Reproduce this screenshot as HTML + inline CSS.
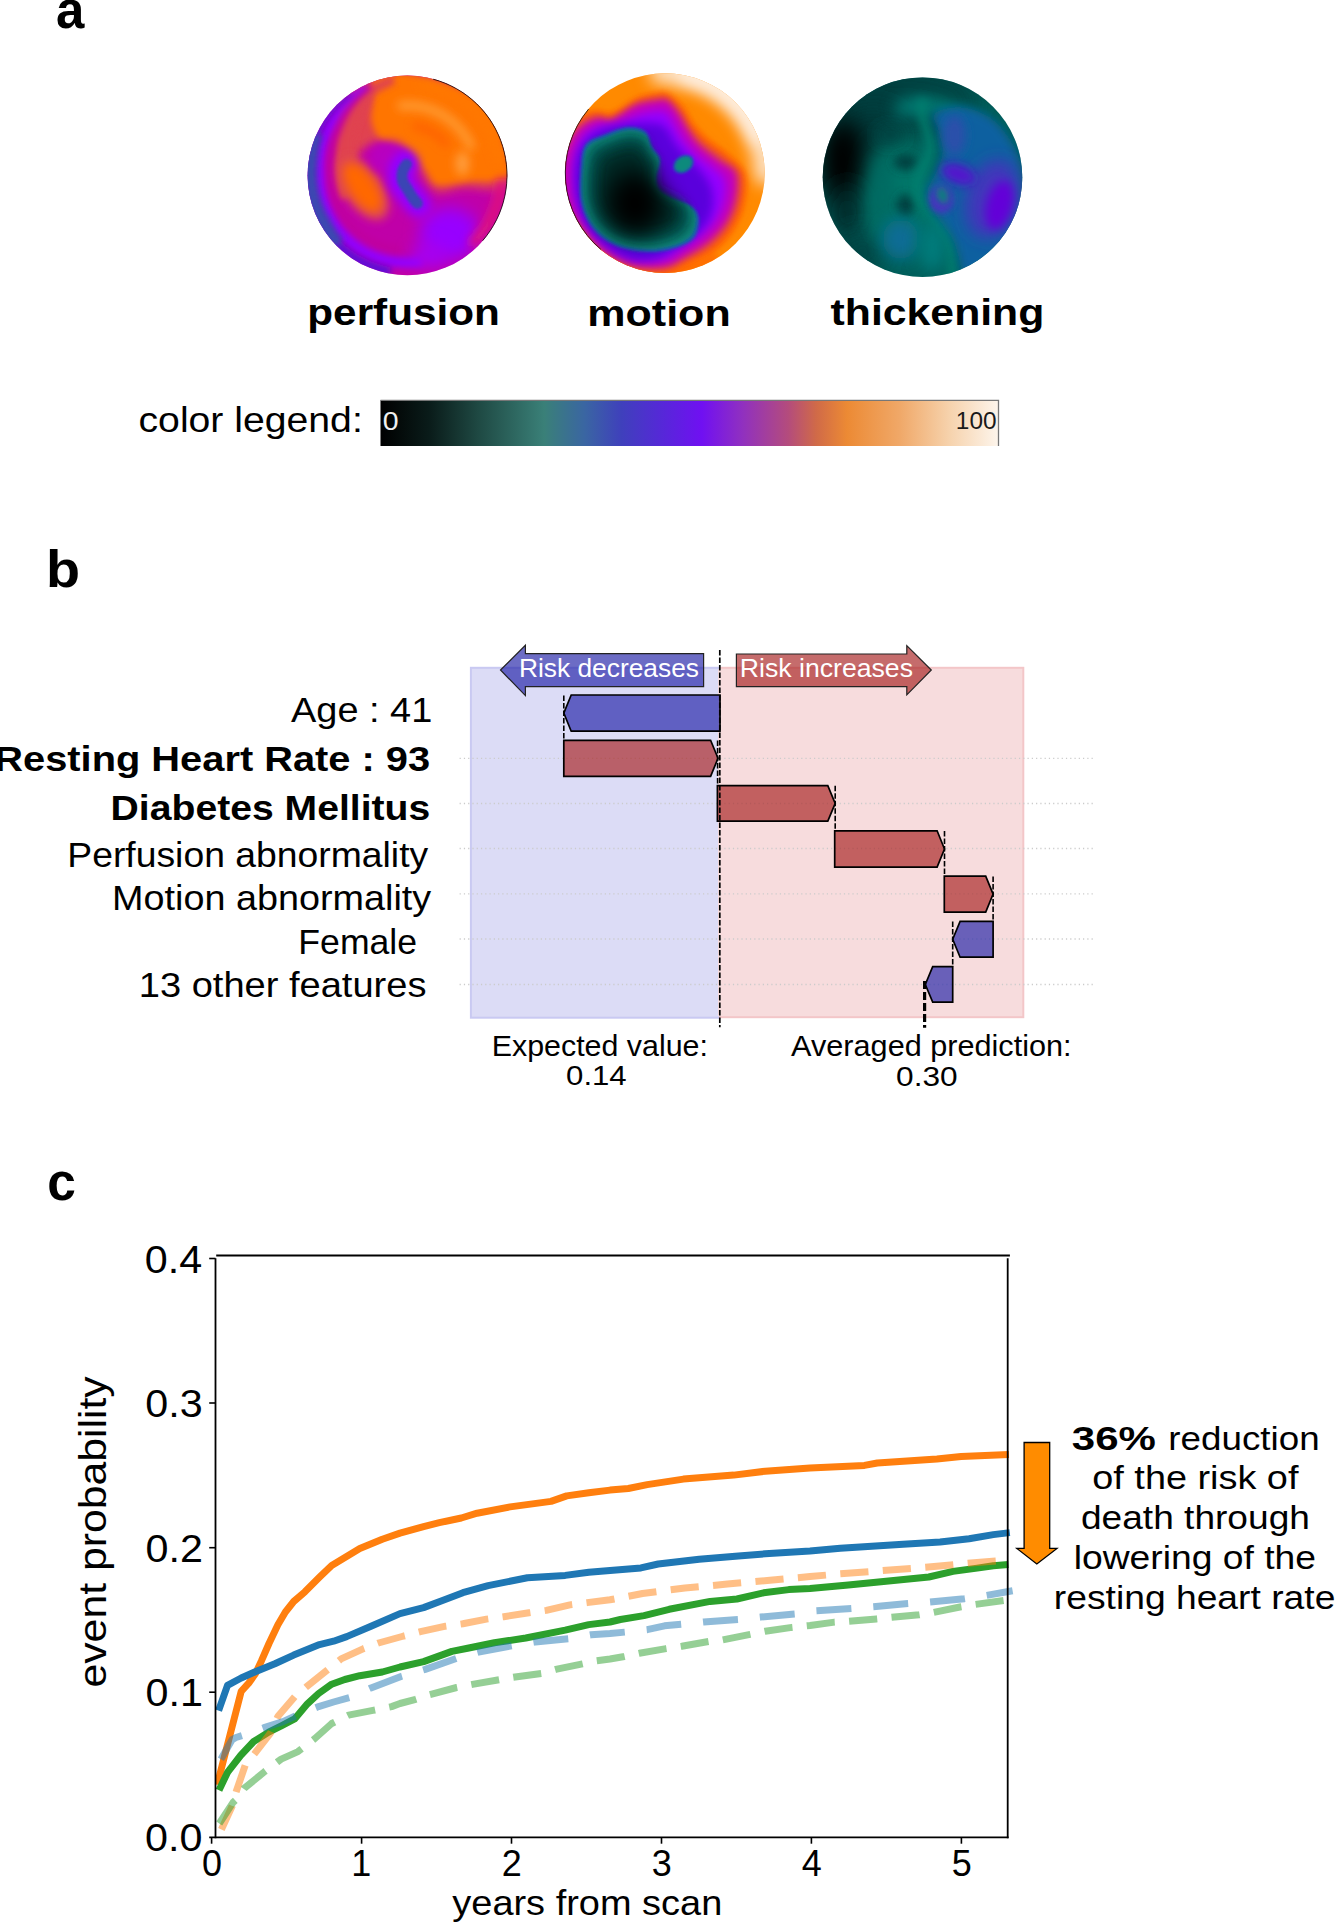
<!DOCTYPE html><html><head><meta charset="utf-8"><style>html,body{margin:0;padding:0;background:#fff;}svg{display:block;}text{font-family:"Liberation Sans", sans-serif;}</style></head><body>
<svg width="1335" height="1922" viewBox="0 0 1335 1922">
<rect width="1335" height="1922" fill="#fff"/>
<defs><filter id="fs1" filterUnits="userSpaceOnUse" x="-130" y="-130" width="260" height="260"><feGaussianBlur stdDeviation="1.5"/></filter><filter id="fs2" filterUnits="userSpaceOnUse" x="-130" y="-130" width="260" height="260"><feGaussianBlur stdDeviation="3"/></filter><filter id="fs3" filterUnits="userSpaceOnUse" x="-130" y="-130" width="260" height="260"><feGaussianBlur stdDeviation="5"/></filter><filter id="fs4" filterUnits="userSpaceOnUse" x="-130" y="-130" width="260" height="260"><feGaussianBlur stdDeviation="8"/></filter><filter id="fs5" filterUnits="userSpaceOnUse" x="-130" y="-130" width="260" height="260"><feGaussianBlur stdDeviation="12"/></filter><clipPath id="cpc"><circle cx="0" cy="0" r="99.8"/></clipPath></defs>
<g transform="translate(407.4 175.4)"><g clip-path="url(#cpc)">
<rect x="-110" y="-110" width="220" height="220" fill="#c000a8"/>
<path d="M-62,-80 C-55.0,-91.2 -43.7,-93.7 -30,-97 C-16.3,-100.3 -1.7,-106.2 20,-100 C41.7,-93.8 86.7,-78.0 100,-60 C113.3,-42.0 107.5,-4.0 100,8 C92.5,20.0 67.0,10.7 55,12 C43.0,13.3 35.5,19.3 28,16 C20.5,12.7 15.5,-1.2 10,-8 C4.5,-14.8 1.7,-20.8 -5,-25 C-11.7,-29.2 -22.5,-33.8 -30,-33 C-37.5,-32.2 -45.0,-27.2 -50,-20 C-55.0,-12.8 -56.3,11.7 -60,10 C-63.7,8.3 -71.7,-15.0 -72,-30 C-72.3,-45.0 -69.0,-68.8 -62,-80 Z" fill="#e04250" filter="url(#fs3)"/>
<path d="M-33,-97 C-25.7,-101.2 -8.8,-104.5 10,-100 C28.8,-95.5 65.0,-83.3 80,-70 C95.0,-56.7 97.0,-32.2 100,-20 C103.0,-7.8 104.7,-1.3 98,3 C91.3,7.3 71.3,5.0 60,6 C48.7,7.0 37.0,11.0 30,9 C23.0,7.0 22.0,-1.2 18,-6 C14.0,-10.8 10.7,-16.0 6,-20 C1.3,-24.0 -4.3,-27.0 -10,-30 C-15.7,-33.0 -23.7,-33.8 -28,-38 C-32.3,-42.2 -35.0,-48.8 -36,-55 C-37.0,-61.2 -34.5,-68.0 -34,-75 C-33.5,-82.0 -40.3,-92.8 -33,-97 Z" fill="#ff7400" filter="url(#fs2)"/>
<path d="M-6.1,-69.7 A70,70 0 0 1 63.4,-29.6" fill="none" stroke="#ff9a30" stroke-width="9" stroke-linecap="round" filter="url(#fs3)" opacity="1"/>
<ellipse cx="55" cy="-12" rx="7" ry="12" fill="#ff9c3a" filter="url(#fs3)"/>
<path d="M8.7,-49.2 A50,50 0 0 1 38.3,-32.1" fill="none" stroke="#ff6200" stroke-width="8" stroke-linecap="round" filter="url(#fs3)" opacity="1"/>
<path d="M16.1,-91.6 A93,93 0 0 1 91.6,-16.1" fill="none" stroke="#ff7800" stroke-width="8" stroke-linecap="round" filter="url(#fs3)" opacity="1"/>
<path d="M-68.6,25.0 L-69.9,22.0 L-71.0,18.9 L-72.1,15.8 L-72.9,12.6 L-73.7,9.4 L-74.3,6.1 L-74.7,2.8 L-75.0,-0.5 L-75.2,-3.9 L-75.2,-7.2 L-75.1,-10.6 L-74.8,-14.0 L-74.3,-17.4 L-73.7,-20.7 L-73.0,-24.1 L-72.4,-27.5 L-72.3,-31.2 L-72.0,-35.0 L-71.6,-38.8 L-70.9,-42.6 L-70.0,-46.4 L-69.0,-50.3 L-67.7,-54.1 L-66.2,-58.0 L-64.5,-61.8 L-62.5,-65.4 L-60.0,-68.7 L-57.4,-71.9 L-54.6,-75.1 L-51.7,-78.1 L-48.6,-81.0 L-45.3,-83.8 L-41.9,-86.5 L-38.3,-89.0 L-34.6,-91.4 L-30.7,-93.5 L-26.7,-95.4 L-22.6,-97.1 L-18.4,-98.7 L-14.1,-100.0 L-12.8,-91.1 L-16.7,-89.6 L-20.5,-88.0 L-24.1,-86.1 L-27.7,-84.2 L-31.0,-81.8 L-33.9,-78.6 L-36.5,-75.4 L-39.0,-72.1 L-41.2,-68.7 L-43.2,-65.3 L-45.0,-61.8 L-46.5,-58.3 L-47.9,-54.8 L-49.0,-51.3 L-50.0,-47.9 L-51.0,-44.6 L-51.7,-41.3 L-52.2,-38.1 L-52.6,-34.9 L-52.8,-31.7 L-52.8,-28.6 L-52.7,-25.6 L-52.3,-22.6 L-51.9,-19.7 L-52.2,-17.2 L-52.9,-14.9 L-53.6,-12.5 L-54.1,-10.1 L-54.5,-7.7 L-54.7,-5.3 L-54.9,-2.8 L-55.0,-0.4 L-55.0,2.1 L-54.8,4.5 L-54.6,6.9 L-54.2,9.4 L-53.7,11.8 L-53.2,14.1 L-52.5,16.5 L-51.7,18.8 Z" fill="#e04250" filter="url(#fs2)"/>
<path d="M-7.3,83.7 L-12.9,83.1 L-18.4,82.0 L-23.9,80.7 L-29.2,79.0 L-34.4,76.9 L-39.5,74.4 L-44.4,71.7 L-49.1,68.6 L-53.6,65.2 L-57.9,61.5 L-61.9,57.5 L-65.6,53.3 L-69.1,48.8 L-72.2,44.2 L-75.0,39.3 L-77.5,34.2 L-79.7,29.0 L-81.5,23.6 L-82.9,18.1 L-84.0,12.5 L-84.7,6.9 L-85.0,1.3 L-85.3,-4.4 L-85.4,-10.2 L-85.0,-16.0 L-84.3,-21.7 L-83.2,-27.5 L-81.7,-33.2 L-79.8,-38.8 L-77.5,-44.3 L-74.8,-49.7 L-72.0,-55.1 L-69.0,-60.4 L-65.5,-65.6 L-61.7,-70.6 L-57.5,-75.4 L-52.9,-80.0 L-47.9,-84.2 L-42.7,-88.2 L-37.1,-91.8 L-35.2,-87.2 L-40.2,-83.2 L-44.9,-78.9 L-49.2,-74.3 L-53.0,-69.6 L-56.5,-64.7 L-59.5,-59.6 L-62.2,-54.5 L-64.4,-49.2 L-66.4,-44.1 L-68.4,-39.1 L-70.1,-34.1 L-71.4,-29.0 L-72.3,-23.9 L-72.9,-18.8 L-73.2,-13.7 L-73.0,-8.7 L-72.6,-3.8 L-72.0,1.1 L-71.7,5.9 L-71.0,10.6 L-70.1,15.3 L-68.8,19.9 L-67.2,24.4 L-65.4,28.8 L-63.2,33.1 L-60.8,37.2 L-58.1,41.1 L-55.2,44.8 L-52.0,48.3 L-48.6,51.6 L-45.0,54.7 L-41.2,57.5 L-37.2,60.0 L-33.1,62.3 L-28.8,64.3 L-24.4,66.0 L-19.9,67.4 L-15.4,68.5 L-10.8,69.3 L-6.1,69.7 Z" fill="#c000a0" filter="url(#fs2)"/>
<path d="M16.0,90.6 L9.4,91.6 L2.8,92.1 L-3.8,92.2 L-10.5,91.7 L-17.0,90.8 L-23.5,89.4 L-29.9,87.6 L-36.2,85.3 L-42.3,82.5 L-48.2,79.4 L-53.8,75.8 L-59.1,71.8 L-64.2,67.4 L-69.0,62.6 L-73.3,57.6 L-77.4,52.2 L-81.0,46.5 L-84.2,40.6 L-87.0,34.5 L-89.3,28.2 L-91.2,21.7 L-92.6,15.1 L-93.5,8.4 L-94.0,1.6 L-94.1,-5.1 L-93.9,-11.9 L-93.1,-18.7 L-91.9,-25.5 L-90.1,-32.1 L-87.9,-38.7 L-85.2,-45.1 L-82.0,-51.3 L-78.5,-57.3 L-74.6,-63.1 L-70.2,-68.7 L-65.5,-74.0 L-60.3,-79.0 L-54.8,-83.5 L-48.9,-87.7 L-42.7,-91.5 L-40.6,-87.0 L-46.2,-82.9 L-51.4,-78.4 L-56.3,-73.7 L-60.7,-68.6 L-64.7,-63.3 L-68.2,-57.8 L-71.3,-52.1 L-74.3,-46.4 L-76.9,-40.7 L-79.1,-34.8 L-80.8,-28.8 L-82.1,-22.8 L-83.0,-16.7 L-83.4,-10.6 L-83.3,-4.5 L-83.0,1.4 L-82.6,7.4 L-81.8,13.3 L-80.6,19.2 L-79.0,24.9 L-77.0,30.5 L-74.5,35.9 L-71.7,41.2 L-68.5,46.2 L-65.0,51.0 L-61.1,55.5 L-56.9,59.7 L-52.5,63.7 L-47.7,67.2 L-42.8,70.5 L-37.6,73.3 L-32.2,75.8 L-26.6,77.9 L-20.9,79.5 L-15.2,80.8 L-9.3,81.6 L-3.4,82.1 L2.5,82.0 L8.4,81.6 L14.2,80.8 Z" fill="#9200ff" filter="url(#fs2)"/>
<path d="M-17.9,101.4 L-23.8,100.2 L-29.7,98.6 L-35.4,96.7 L-41.1,94.5 L-46.6,91.9 L-51.9,89.0 L-57.0,85.8 L-62.0,82.3 L-66.7,78.5 L-71.2,74.4 L-75.5,70.1 L-79.5,65.5 L-83.2,60.7 L-86.6,55.7 L-89.8,50.5 L-92.6,45.2 L-95.1,39.6 L-97.2,34.0 L-99.1,28.2 L-100.6,22.3 L-101.7,16.3 L-102.5,10.3 L-102.9,4.3 L-103.0,-1.8 L-102.7,-7.9 L-102.1,-13.9 L-101.1,-19.9 L-99.7,-25.8 L-98.0,-31.6 L-96.0,-37.3 L-93.6,-42.9 L-90.9,-48.4 L-87.9,-53.6 L-84.6,-58.7 L-81.0,-63.6 L-77.1,-68.2 L-73.0,-72.7 L-68.6,-76.8 L-63.9,-80.7 L-59.1,-84.4 L-56.2,-80.3 L-60.7,-76.6 L-64.9,-72.7 L-68.9,-68.6 L-72.7,-64.3 L-76.1,-59.7 L-79.3,-55.0 L-82.2,-50.1 L-84.8,-45.1 L-87.1,-39.9 L-89.0,-34.6 L-90.7,-29.3 L-92.0,-23.8 L-93.0,-18.3 L-93.7,-12.8 L-94.0,-7.2 L-94.1,-1.6 L-93.9,3.9 L-93.5,9.4 L-92.7,14.9 L-91.6,20.3 L-90.2,25.7 L-88.5,30.9 L-86.5,36.1 L-84.2,41.1 L-81.6,45.9 L-78.7,50.6 L-75.6,55.2 L-72.2,59.5 L-68.5,63.6 L-64.6,67.5 L-60.5,71.1 L-56.2,74.5 L-51.7,77.7 L-47.0,80.6 L-42.1,83.1 L-37.2,85.4 L-32.0,87.4 L-26.8,89.1 L-21.5,90.5 L-16.1,91.6 Z" fill="#5a08d8" filter="url(#fs2)"/>
<path d="M-72.8,72.8 L-75.0,70.6 L-77.1,68.2 L-79.2,65.9 L-81.2,63.4 L-83.1,60.9 L-84.9,58.3 L-86.6,55.7 L-88.3,53.0 L-89.9,50.3 L-91.4,47.6 L-92.8,44.7 L-94.1,41.9 L-95.3,39.0 L-96.5,36.1 L-97.5,33.1 L-98.5,30.1 L-99.4,27.1 L-100.2,24.0 L-100.8,21.0 L-101.4,17.9 L-101.9,14.8 L-102.3,11.7 L-102.6,8.5 L-102.9,5.4 L-103.0,2.2 L-103.0,-0.9 L-102.9,-4.0 L-102.7,-7.2 L-102.5,-10.3 L-102.1,-13.4 L-101.7,-16.6 L-101.1,-19.7 L-100.5,-22.7 L-99.7,-25.8 L-98.9,-28.8 L-98.0,-31.8 L-96.9,-34.8 L-95.8,-37.7 L-94.6,-40.7 L-93.3,-43.5 L-85.2,-39.7 L-86.0,-37.0 L-86.8,-34.2 L-87.5,-31.4 L-88.1,-28.6 L-88.6,-25.8 L-89.0,-23.0 L-89.3,-20.2 L-89.5,-17.4 L-89.8,-14.6 L-90.1,-11.9 L-90.3,-9.1 L-90.5,-6.3 L-90.5,-3.6 L-90.5,-0.8 L-90.4,2.0 L-90.2,4.7 L-90.0,7.5 L-89.6,10.2 L-89.2,12.9 L-88.6,15.6 L-88.0,18.3 L-87.3,21.0 L-86.6,23.6 L-85.7,26.2 L-84.8,28.8 L-83.8,31.3 L-82.7,33.8 L-81.6,36.3 L-80.4,38.8 L-79.1,41.2 L-77.7,43.5 L-76.4,45.9 L-75.2,48.3 L-73.8,50.7 L-72.4,53.1 L-71.0,55.5 L-69.4,57.7 L-67.8,60.0 L-66.1,62.2 L-64.3,64.3 Z" fill="#3a48b0" filter="url(#fs2)"/>
<ellipse cx="-44" cy="13" rx="19" ry="36" fill="#e04850" filter="url(#fs3)" transform="rotate(-34 -44 13)"/>
<ellipse cx="-45" cy="12" rx="13" ry="28" fill="#ff6800" filter="url(#fs3)" transform="rotate(-34 -45 12)"/>
<ellipse cx="-18" cy="-18" rx="20" ry="16" fill="#b800c0" filter="url(#fs3)"/>
<path d="M-2,-12 C-9,-4 -9,6 -2,13 C3,20 7,25 11,29" fill="none" stroke="#9400ff" stroke-width="26" stroke-linecap="round" filter="url(#fs3)"/>
<path d="M-1,-11 C-7,-4 -7,6 -1,12 C3,19 6,24 10,28" fill="none" stroke="#3a44b4" stroke-width="11" stroke-linecap="round" filter="url(#fs1)"/>
<ellipse cx="42" cy="58" rx="30" ry="26" fill="#9800ff" filter="url(#fs4)"/>
<ellipse cx="22" cy="80" rx="18" ry="12" fill="#a400f4" filter="url(#fs4)"/>
<path d="M93.6,8.2 A94,94 0 0 1 66.5,66.5" fill="none" stroke="#e0167c" stroke-width="10" stroke-linecap="round" filter="url(#fs3)" opacity="1"/>
</g>
<path d="M25.78,-96.21 A99.6,99.6 0 0 1 75.17,65.34" fill="none" stroke="#000" stroke-width="1" opacity="0.75"/>
</g>
<g transform="translate(664.9 173.1)"><g clip-path="url(#cpc)">
<rect x="-110" y="-110" width="220" height="220" fill="#ff8a00"/>
<path d="M-3.5,-100.9 A101,101 0 0 1 101.0,0.0" fill="none" stroke="#fde2c4" stroke-width="24" stroke-linecap="round" filter="url(#fs4)" opacity="1"/>
<path d="M21.0,-98.8 A101,101 0 0 1 93.6,-37.8" fill="none" stroke="#fff0e2" stroke-width="18" stroke-linecap="round" filter="url(#fs4)" opacity="1"/>
<path d="M49.0,84.9 A98,98 0 0 1 -84.9,49.0" fill="none" stroke="#ff6a00" stroke-width="8" stroke-linecap="round" filter="url(#fs2)" opacity="1"/>
<path d="M2,-80 C6.3,-77.7 13.7,-71.0 18,-66 C22.3,-61.0 24.0,-55.2 28,-50 C32.0,-44.8 36.3,-40.0 42,-35 C47.7,-30.0 55.7,-25.8 62,-20 C68.3,-14.2 77.0,-8.0 80,0 C83.0,8.0 81.7,18.8 80,28 C78.3,37.2 75.0,46.7 70,55 C65.0,63.3 58.0,71.7 50,78 C42.0,84.3 30.3,89.0 22,93 C13.7,97.0 9.5,100.8 0,102 C-9.5,103.2 -24.2,102.8 -35,100 C-45.8,97.2 -56.2,91.7 -65,85 C-73.8,78.3 -81.8,69.2 -88,60 C-94.2,50.8 -99.2,40.0 -102,30 C-104.8,20.0 -105.3,10.0 -105,0 C-104.7,-10.0 -102.2,-21.3 -100,-30 C-97.8,-38.7 -96.7,-46.7 -92,-52 C-87.3,-57.3 -78.2,-60.7 -72,-62 C-65.8,-63.3 -60.0,-59.3 -55,-60 C-50.0,-60.7 -46.8,-63.3 -42,-66 C-37.2,-68.7 -31.7,-73.7 -26,-76 C-20.3,-78.3 -12.7,-79.3 -8,-80 C-3.3,-80.7 -2.3,-82.3 2,-80 Z" fill="#ff6000" filter="url(#fs2)"/>
<path d="M2,-76 C6.0,-73.7 12.2,-67.0 16,-62 C19.8,-57.0 21.3,-51.2 25,-46 C28.7,-40.8 32.5,-36.0 38,-31 C43.5,-26.0 51.8,-21.2 58,-16 C64.2,-10.8 72.2,-7.2 75,0 C77.8,7.2 76.7,18.3 75,27 C73.3,35.7 69.8,44.3 65,52 C60.2,59.7 53.5,67.0 46,73 C38.5,79.0 27.7,84.0 20,88 C12.3,92.0 8.7,95.7 0,97 C-8.7,98.3 -21.7,98.5 -32,96 C-42.3,93.5 -53.3,88.3 -62,82 C-70.7,75.7 -77.3,66.7 -84,58 C-90.7,49.3 -98.3,39.7 -102,30 C-105.7,20.3 -106.3,9.5 -106,0 C-105.7,-9.5 -102.8,-19.0 -100,-27 C-97.2,-35.0 -94.0,-42.8 -89,-48 C-84.0,-53.2 -75.7,-56.7 -70,-58 C-64.3,-59.3 -59.5,-55.3 -55,-56 C-50.5,-56.7 -47.7,-59.3 -43,-62 C-38.3,-64.7 -32.8,-69.7 -27,-72 C-21.2,-74.3 -12.8,-75.3 -8,-76 C-3.2,-76.7 -2.0,-78.3 2,-76 Z" fill="#e0404a" filter="url(#fs2)"/>
<path d="M2,-72 C5.7,-69.7 10.7,-62.7 14,-58 C17.3,-53.3 18.7,-49.0 22,-44 C25.3,-39.0 28.7,-33.3 34,-28 C39.3,-22.7 48.0,-16.7 54,-12 C60.0,-7.3 67.3,-6.2 70,0 C72.7,6.2 71.5,16.8 70,25 C68.5,33.2 65.5,41.7 61,49 C56.5,56.3 50.0,63.2 43,69 C36.0,74.8 26.2,80.0 19,84 C11.8,88.0 8.2,91.7 0,93 C-8.2,94.3 -20.0,94.5 -30,92 C-40.0,89.5 -51.5,84.0 -60,78 C-68.5,72.0 -74.5,64.2 -81,56 C-87.5,47.8 -95.2,38.3 -99,29 C-102.8,19.7 -104.2,9.0 -104,0 C-103.8,-9.0 -101.0,-17.7 -98,-25 C-95.0,-32.3 -91.0,-39.2 -86,-44 C-81.0,-48.8 -73.2,-52.7 -68,-54 C-62.8,-55.3 -59.0,-51.3 -55,-52 C-51.0,-52.7 -48.5,-55.3 -44,-58 C-39.5,-60.7 -34.0,-65.7 -28,-68 C-22.0,-70.3 -13.0,-71.3 -8,-72 C-3.0,-72.7 -1.7,-74.3 2,-72 Z" fill="#c400b8" filter="url(#fs2)"/>
<path d="M0,-62 C5.3,-60.0 7.0,-52.7 10,-48 C13.0,-43.3 14.7,-38.7 18,-34 C21.3,-29.3 25.0,-24.7 30,-20 C35.0,-15.3 43.0,-10.3 48,-6 C53.0,-1.7 58.0,0.7 60,6 C62.0,11.3 61.3,19.3 60,26 C58.7,32.7 56.0,39.8 52,46 C48.0,52.2 42.0,58.0 36,63 C30.0,68.0 22.0,72.2 16,76 C10.0,79.8 7.7,84.3 0,86 C-7.7,87.7 -20.3,88.2 -30,86 C-39.7,83.8 -50.0,78.7 -58,73 C-66.0,67.3 -72.8,59.7 -78,52 C-83.2,44.3 -86.7,35.7 -89,27 C-91.3,18.3 -92.0,8.2 -92,0 C-92.0,-8.2 -90.8,-15.7 -89,-22 C-87.2,-28.3 -84.8,-33.8 -81,-38 C-77.2,-42.2 -70.8,-45.3 -66,-47 C-61.2,-48.7 -56.7,-47.0 -52,-48 C-47.3,-49.0 -43.0,-51.0 -38,-53 C-33.0,-55.0 -28.3,-58.5 -22,-60 C-15.7,-61.5 -5.3,-64.0 0,-62 Z" fill="#9400ff" filter="url(#fs3)"/>
<path d="M0,-46 C4.0,-42.7 6.3,-35.0 10,-30 C13.7,-25.0 17.7,-20.7 22,-16 C26.3,-11.3 32.0,-7.0 36,-2 C40.0,3.0 44.0,8.3 46,14 C48.0,19.7 48.7,26.0 48,32 C47.3,38.0 45.3,44.7 42,50 C38.7,55.3 33.3,59.7 28,64 C22.7,68.3 16.3,72.3 10,76 C3.7,79.7 -2.5,84.3 -10,86 C-17.5,87.7 -26.7,88.3 -35,86 C-43.3,83.7 -52.8,77.7 -60,72 C-67.2,66.3 -73.3,59.5 -78,52 C-82.7,44.5 -86.0,35.7 -88,27 C-90.0,18.3 -90.3,8.2 -90,0 C-89.7,-8.2 -88.3,-16.0 -86,-22 C-83.7,-28.0 -80.0,-32.3 -76,-36 C-72.0,-39.7 -67.0,-42.0 -62,-44 C-57.0,-46.0 -51.3,-47.0 -46,-48 C-40.7,-49.0 -35.3,-49.7 -30,-50 C-24.7,-50.3 -19.0,-50.7 -14,-50 C-9.0,-49.3 -4.0,-49.3 0,-46 Z" fill="#5a06dc" filter="url(#fs3)"/>
<path d="M-84,-9 C-83.2,-18.7 -82.7,-24.2 -79,-29 C-75.3,-33.8 -68.8,-35.2 -62,-38 C-55.2,-40.8 -45.0,-45.3 -38,-46 C-31.0,-46.7 -24.2,-45.3 -20,-42 C-15.8,-38.7 -15.5,-30.7 -13,-26 C-10.5,-21.3 -5.7,-19.0 -5,-14 C-4.3,-9.0 -8.8,-1.2 -9,4 C-9.2,9.2 -8.7,13.3 -6,17 C-3.3,20.7 1.5,23.2 7,26 C12.5,28.8 22.5,30.7 27,34 C31.5,37.3 33.5,41.0 34,46 C34.5,51.0 33.3,59.3 30,64 C26.7,68.7 21.2,71.5 14,74 C6.8,76.5 -3.0,79.0 -13,79 C-23.0,79.0 -36.3,77.7 -46,74 C-55.7,70.3 -64.7,64.5 -71,57 C-77.3,49.5 -81.8,40.0 -84,29 C-86.2,18.0 -84.8,0.7 -84,-9 Z" fill="#1e5cae" filter="url(#fs1)"/>
<path d="M-81.3,-7.799999999999997 C-80.5,-17.0 -80.0,-22.2 -76.55,-26.799999999999997 C-73.1,-31.4 -66.9,-32.7 -60.4,-35.349999999999994 C-53.9,-38.0 -44.2,-42.3 -37.6,-42.949999999999996 C-31.0,-43.6 -24.5,-42.3 -20.5,-39.15 C-16.5,-36.0 -16.2,-28.4 -13.850000000000001,-23.949999999999996 C-11.5,-19.5 -6.9,-17.3 -6.25,-12.549999999999997 C-5.6,-7.8 -9.9,-0.4 -10.05,4.550000000000001 C-10.2,9.5 -9.7,13.4 -7.200000000000003,16.9 C-4.7,20.4 -0.1,22.8 5.149999999999999,25.45 C10.4,28.1 19.9,29.9 24.15,33.05 C28.4,36.2 30.3,39.7 30.799999999999997,44.45 C31.3,49.2 30.2,57.1 27.0,61.55 C23.8,66.0 18.6,68.7 11.799999999999997,71.05 C5.0,73.4 -4.4,75.8 -13.850000000000001,75.8 C-23.4,75.8 -36.0,74.5 -45.2,71.05 C-54.4,67.6 -62.9,62.0 -68.94999999999999,54.9 C-75.0,47.8 -79.2,38.8 -81.3,28.299999999999997 C-83.4,17.8 -82.1,1.4 -81.3,-7.799999999999997 Z" fill="#0a8478" filter="url(#fs1)"/>
<path d="M-76.44,-5.640000000000001 C-75.7,-14.0 -75.3,-18.7 -72.14,-22.839999999999996 C-69.0,-27.0 -63.4,-28.1 -57.519999999999996,-30.58 C-51.6,-33.0 -42.9,-36.9 -36.88,-37.46 C-30.9,-38.0 -25.0,-36.9 -21.4,-34.019999999999996 C-17.8,-31.2 -17.5,-24.3 -15.38,-20.259999999999998 C-13.2,-16.2 -9.1,-14.2 -8.5,-9.940000000000001 C-7.9,-5.6 -11.8,1.1 -11.940000000000001,5.540000000000001 C-12.1,10.0 -11.7,13.6 -9.36,16.72 C-7.1,19.9 -2.9,22.0 1.8200000000000003,24.46 C6.5,26.9 15.1,28.5 19.019999999999996,31.34 C22.9,34.2 24.6,37.4 25.04,41.66 C25.5,46.0 24.5,53.1 21.6,57.14 C18.7,61.2 14.0,63.6 7.839999999999996,65.74000000000001 C1.7,67.9 -6.8,70.0 -15.38,70.03999999999999 C-24.0,70.0 -35.4,68.9 -43.76,65.74000000000001 C-52.1,62.6 -59.8,57.6 -65.25999999999999,51.12 C-70.7,44.7 -74.6,36.5 -76.44,27.04 C-78.3,17.6 -77.2,2.7 -76.44,-5.640000000000001 Z" fill="#035a54" filter="url(#fs3)"/>
<path d="M-68.88,-2.280000000000001 C-68.3,-9.2 -67.9,-13.2 -65.28,-16.68 C-62.6,-20.2 -58.0,-21.1 -53.04,-23.159999999999997 C-48.1,-25.2 -40.8,-28.4 -35.76,-28.92 C-30.7,-29.4 -25.8,-28.4 -22.8,-26.04 C-19.8,-23.6 -19.6,-17.9 -17.759999999999998,-14.52 C-16.0,-11.2 -12.5,-9.5 -12.0,-5.879999999999999 C-11.5,-2.3 -14.8,3.4 -14.88,7.08 C-15.0,10.8 -14.6,13.8 -12.719999999999999,16.44 C-10.8,19.1 -7.3,20.9 -3.3599999999999994,22.92 C0.6,25.0 7.8,26.3 11.04,28.68 C14.3,31.1 15.7,33.7 16.08,37.32 C16.4,40.9 15.6,46.9 13.199999999999996,50.28 C10.8,53.6 6.8,55.7 1.6799999999999997,57.48 C-3.5,59.3 -10.6,61.1 -17.759999999999998,61.08 C-25.0,61.1 -34.6,60.1 -41.519999999999996,57.48 C-48.5,54.8 -55.0,50.6 -59.519999999999996,45.239999999999995 C-64.1,39.8 -67.3,33.0 -68.88,25.08 C-70.4,17.2 -69.5,4.7 -68.88,-2.280000000000001 Z" fill="#022a28" filter="url(#fs4)"/>
<ellipse cx="-30" cy="30" rx="28" ry="32" fill="#000000" filter="url(#fs5)"/>
<ellipse cx="18.6" cy="-8.9" rx="11" ry="8" fill="#1e5cae" filter="url(#fs1)" transform="rotate(-35 18.6 -8.9)"/>
<ellipse cx="18.6" cy="-8.9" rx="9" ry="6.5" fill="#0c8a7c" filter="url(#fs1)" transform="rotate(-35 18.6 -8.9)"/>
</g>
<path d="M-64.02,76.30 A99.6,99.6 0 0 1 -76.30,-64.02" fill="none" stroke="#000" stroke-width="1" opacity="0.7"/>
</g>
<g transform="translate(922.5 177.2)"><g clip-path="url(#cpc)">
<rect x="-110" y="-110" width="220" height="220" fill="#005e5a"/>
<ellipse cx="-25" cy="-75" rx="80" ry="35" fill="#003e3e" filter="url(#fs5)"/>
<ellipse cx="-50" cy="-30" rx="40" ry="40" fill="#003a3a" filter="url(#fs5)"/>
<ellipse cx="-80" cy="-15" rx="24" ry="45" fill="#000606" filter="url(#fs5)"/>
<ellipse cx="-75" cy="35" rx="16" ry="30" fill="#002828" filter="url(#fs5)"/>
<ellipse cx="-60" cy="75" rx="25" ry="20" fill="#004040" filter="url(#fs5)"/>
<ellipse cx="-22" cy="18" rx="32" ry="62" fill="#007468" filter="url(#fs5)"/>
<ellipse cx="-40" cy="20" rx="10" ry="40" fill="#006a62" filter="url(#fs4)"/>
<ellipse cx="-17" cy="-15" rx="12" ry="8" fill="#004040" filter="url(#fs3)"/>
<ellipse cx="-17" cy="28" rx="9" ry="11" fill="#004040" filter="url(#fs3)"/>
<ellipse cx="-32" cy="-42" rx="14" ry="8" fill="#004040" filter="url(#fs4)"/>
<path d="M-18.6,-69.5 A72,72 0 0 1 55.2,-46.3" fill="none" stroke="#007e76" stroke-width="18" stroke-linecap="round" filter="url(#fs4)" opacity="1"/>
<path d="M0,-78 C-4,-58 10,-42 8,-27 C5,-12 -8,-2 -5,14 C-2,30 14,44 24,60 C30,75 30,90 30,102" fill="none" stroke="#00806f" stroke-width="9" filter="url(#fs3)"/>
<path d="M12,-64 C16.0,-68.0 30.3,-71.0 40,-70 C49.7,-69.0 61.3,-64.7 70,-58 C78.7,-51.3 87.0,-39.7 92,-30 C97.0,-20.3 99.0,-11.7 100,0 C101.0,11.7 100.5,28.3 98,40 C95.5,51.7 91.3,61.7 85,70 C78.7,78.3 67.2,85.3 60,90 C52.8,94.7 46.0,99.7 42,98 C38.0,96.3 38.0,86.0 36,80 C34.0,74.0 33.0,67.8 30,62 C27.0,56.2 21.7,50.7 18,45 C14.3,39.3 10.2,33.5 8,28 C5.8,22.5 4.0,17.7 5,12 C6.0,6.3 11.5,0.3 14,-6 C16.5,-12.3 19.7,-19.3 20,-26 C20.3,-32.7 17.3,-39.7 16,-46 C14.7,-52.3 8.0,-60.0 12,-64 Z" fill="#0860a0" filter="url(#fs3)"/>
<ellipse cx="32" cy="-42" rx="11" ry="20" fill="#2a50aa" filter="url(#fs3)"/>
<ellipse cx="70" cy="22" rx="26" ry="40" fill="#4234bc" filter="url(#fs4)" transform="rotate(15 70 22)"/>
<ellipse cx="77" cy="28" rx="13" ry="25" fill="#6400d8" filter="url(#fs3)" transform="rotate(15 77 28)"/>
<ellipse cx="36" cy="-3" rx="18" ry="10" fill="#5212cc" filter="url(#fs3)" transform="rotate(20 36 -3)"/>
<ellipse cx="19" cy="22" rx="12" ry="14" fill="#4a32c0" filter="url(#fs2)"/>
<ellipse cx="20" cy="18" rx="6" ry="9" fill="#0a7c80" filter="url(#fs2)" transform="rotate(-20 20 18)"/>
<ellipse cx="-22" cy="62" rx="18" ry="20" fill="#086c96" filter="url(#fs4)"/>
<ellipse cx="10" cy="70" rx="14" ry="25" fill="#007c7c" filter="url(#fs4)"/>
</g></g>
<text x="55.91" y="28.30" font-size="53" font-weight="bold" fill="#000" textLength="28.37" lengthAdjust="spacingAndGlyphs">a</text>
<text x="307.31" y="324.80" font-size="37.6" font-weight="bold" fill="#000" textLength="192.61" lengthAdjust="spacingAndGlyphs">perfusion</text>
<text x="587.37" y="325.80" font-size="37.6" font-weight="bold" fill="#000" textLength="143.30" lengthAdjust="spacingAndGlyphs">motion</text>
<text x="830.58" y="324.60" font-size="37.6" font-weight="bold" fill="#000" textLength="213.78" lengthAdjust="spacingAndGlyphs">thickening</text>
<text x="138.54" y="431.70" font-size="35.5" fill="#000" textLength="224.24" lengthAdjust="spacingAndGlyphs">color legend:</text>
<defs><linearGradient id="cmap" x1="0" x2="1" y1="0" y2="0"><stop offset="0" stop-color="#000000"/><stop offset="0.08" stop-color="#0a1c1a"/><stop offset="0.16" stop-color="#1f4a44"/><stop offset="0.265" stop-color="#3a8078"/><stop offset="0.33" stop-color="#3a66a2"/><stop offset="0.39" stop-color="#3f40bc"/><stop offset="0.455" stop-color="#5628d8"/><stop offset="0.52" stop-color="#7010f2"/><stop offset="0.585" stop-color="#9030c0"/><stop offset="0.66" stop-color="#b44c7c"/><stop offset="0.705" stop-color="#d06a48"/><stop offset="0.755" stop-color="#ec8a34"/><stop offset="0.84" stop-color="#f0a868"/><stop offset="0.92" stop-color="#f6d2ac"/><stop offset="1" stop-color="#fdf5ec"/></linearGradient></defs>
<rect x="380.5" y="400.3" width="618" height="45.7" fill="url(#cmap)"/>
<path d="M380.5 400.3 H998.5 V446" fill="none" stroke="#777" stroke-width="1.3"/>
<text x="382.89" y="429.90" font-size="25" fill="#f0f0f0" textLength="15.82" lengthAdjust="spacingAndGlyphs">0</text>
<text x="955.84" y="428.80" font-size="23.5" fill="#1a1a1a" textLength="40.71" lengthAdjust="spacingAndGlyphs">100</text>
<text x="46.12" y="586.50" font-size="52" font-weight="bold" fill="#000" textLength="34.06" lengthAdjust="spacingAndGlyphs">b</text>
<rect x="470.9" y="667.8" width="249.1" height="349.9" fill="#dcdcf6" stroke="#c9c9f2" stroke-width="2"/>
<rect x="720" y="667.8" width="303.3" height="349.4" fill="#f7dcdd" stroke="#f3c6c8" stroke-width="2"/>
<rect x="718" y="669" width="4" height="347" fill="#f7dcdd"/>
<line x1="459.6" y1="758.3" x2="1094" y2="758.3" stroke="#cbcbcb" stroke-width="1.3" stroke-dasharray="1.2 3.07"/>
<line x1="459.6" y1="803.5" x2="1094" y2="803.5" stroke="#cbcbcb" stroke-width="1.3" stroke-dasharray="1.2 3.07"/>
<line x1="459.6" y1="848.5" x2="1094" y2="848.5" stroke="#cbcbcb" stroke-width="1.3" stroke-dasharray="1.2 3.07"/>
<line x1="459.6" y1="893.8" x2="1094" y2="893.8" stroke="#cbcbcb" stroke-width="1.3" stroke-dasharray="1.2 3.07"/>
<line x1="459.6" y1="939.0" x2="1094" y2="939.0" stroke="#cbcbcb" stroke-width="1.3" stroke-dasharray="1.2 3.07"/>
<line x1="459.6" y1="984.5" x2="1094" y2="984.5" stroke="#cbcbcb" stroke-width="1.3" stroke-dasharray="1.2 3.07"/>
<path d="M703.6 653.6 H525.4 V645.2 L500.5 670 L525.4 695.6 V686.6 H703.6 Z" fill="rgba(29,29,166,0.65)" stroke="#222" stroke-width="1.2"/>
<path d="M736.4 654 H906.8 V645.6 L931.3 670 L906.8 694.8 V686.6 H736.4 Z" fill="rgba(166,29,29,0.65)" stroke="#222" stroke-width="1.2"/>
<text x="518.94" y="677.00" font-size="26" fill="#fff" textLength="180.01" lengthAdjust="spacingAndGlyphs">Risk decreases</text>
<text x="739.82" y="677.00" font-size="26" fill="#fff" textLength="173.15" lengthAdjust="spacingAndGlyphs">Risk increases</text>
<polygon points="720.0,695.0 571.2,695.0 563.8,713.1 571.2,731.2 720.0,731.2" fill="rgba(29,29,166,0.65)" stroke="#000" stroke-width="1.7" stroke-linejoin="miter"/>
<polygon points="563.8,740.3 710.6,740.3 718.0,758.3 710.6,776.3 563.8,776.3" fill="rgba(166,29,29,0.65)" stroke="#000" stroke-width="1.7" stroke-linejoin="miter"/>
<polygon points="717.4,785.6 827.8,785.6 835.2,803.4 827.8,821.1 717.4,821.1" fill="rgba(166,29,29,0.65)" stroke="#000" stroke-width="1.7" stroke-linejoin="miter"/>
<polygon points="834.7,830.8 937.1,830.8 944.5,849.0 937.1,867.1 834.7,867.1" fill="rgba(166,29,29,0.65)" stroke="#000" stroke-width="1.7" stroke-linejoin="miter"/>
<polygon points="944.3,876.1 985.7,876.1 993.1,894.1 985.7,912.1 944.3,912.1" fill="rgba(166,29,29,0.65)" stroke="#000" stroke-width="1.7" stroke-linejoin="miter"/>
<polygon points="993.1,921.4 960.1,921.4 952.7,939.3 960.1,957.2 993.1,957.2" fill="rgba(29,29,166,0.65)" stroke="#000" stroke-width="1.7" stroke-linejoin="miter"/>
<polygon points="952.7,966.7 932.7,966.7 925.3,984.5 932.7,1002.2 952.7,1002.2" fill="rgba(29,29,166,0.65)" stroke="#000" stroke-width="1.7" stroke-linejoin="miter"/>
<line x1="719.8" y1="650" x2="719.8" y2="1027.3" stroke="#000" stroke-width="1.7" stroke-dasharray="5.5 2"/>
<line x1="563.8" y1="695.6" x2="563.8" y2="740.3" stroke="#000" stroke-width="1.6" stroke-dasharray="5.5 2"/>
<line x1="717.6" y1="740.5" x2="717.6" y2="785.6" stroke="#000" stroke-width="1.6" stroke-dasharray="5.5 2"/>
<line x1="835.2" y1="785.8" x2="835.2" y2="830.8" stroke="#000" stroke-width="1.6" stroke-dasharray="5.5 2"/>
<line x1="944.5" y1="831" x2="944.5" y2="876.1" stroke="#000" stroke-width="1.6" stroke-dasharray="5.5 2"/>
<line x1="993.1" y1="876.5" x2="993.1" y2="921.4" stroke="#000" stroke-width="1.6" stroke-dasharray="5.5 2"/>
<line x1="952.7" y1="921.6" x2="952.7" y2="966.7" stroke="#000" stroke-width="1.6" stroke-dasharray="5.5 2"/>
<line x1="924.6" y1="981" x2="924.6" y2="1027.8" stroke="#000" stroke-width="3.2" stroke-dasharray="8 3"/>
<text x="291.03" y="722.00" font-size="34.6" fill="#000" textLength="141.23" lengthAdjust="spacingAndGlyphs">Age : 41</text>
<text x="110.58" y="819.60" font-size="35.6" font-weight="bold" fill="#000" textLength="319.72" lengthAdjust="spacingAndGlyphs">Diabetes Mellitus</text>
<text x="-5.66" y="771.10" font-size="35.6" font-weight="bold" fill="#000" textLength="435.80" lengthAdjust="spacingAndGlyphs">Resting Heart Rate : 93</text>
<text x="67.24" y="866.80" font-size="34.6" fill="#000" textLength="360.93" lengthAdjust="spacingAndGlyphs">Perfusion abnormality</text>
<text x="112.10" y="909.90" font-size="34.6" fill="#000" textLength="319.07" lengthAdjust="spacingAndGlyphs">Motion abnormality</text>
<text x="298.38" y="953.80" font-size="34.6" fill="#000" textLength="118.70" lengthAdjust="spacingAndGlyphs">Female</text>
<text x="138.80" y="997.00" font-size="34.6" fill="#000" textLength="287.67" lengthAdjust="spacingAndGlyphs">13 other features</text>
<text x="491.71" y="1055.70" font-size="28.6" fill="#000" textLength="216.17" lengthAdjust="spacingAndGlyphs">Expected value:</text>
<text x="566.08" y="1085.40" font-size="28.5" fill="#000" textLength="60.63" lengthAdjust="spacingAndGlyphs">0.14</text>
<text x="791.14" y="1055.70" font-size="28.6" fill="#000" textLength="280.45" lengthAdjust="spacingAndGlyphs">Averaged prediction:</text>
<text x="896.06" y="1085.60" font-size="28.5" fill="#000" textLength="61.57" lengthAdjust="spacingAndGlyphs">0.30</text>
<text x="47.19" y="1200.30" font-size="53" font-weight="bold" fill="#000" textLength="28.62" lengthAdjust="spacingAndGlyphs">c</text>
<defs><clipPath id="axclip"><rect x="215.5" y="1250" width="810" height="588"/></clipPath></defs>
<g fill="none" stroke-linejoin="round" stroke-linecap="butt" clip-path="url(#axclip)">
<polyline points="217.2,1784.7 241.2,1691.4 248.7,1683.2 255.5,1673.5 261.5,1660.7 269.0,1643.5 277.9,1624.8 285.4,1612.0 293.7,1601.5 304.9,1591.8 319.9,1576.8 331.7,1565.4 359.8,1548.5 382.3,1539.2 400.0,1533.1 423.6,1526.6 439.3,1522.7 461.3,1518.0 477.1,1513.2 510.1,1506.9 551.0,1501.4 566.7,1495.9 588.8,1492.8 610.0,1490.1 628.3,1488.5 647.2,1484.6 683.4,1479.1 733.7,1475.1 765.2,1471.2 810.0,1467.9 864.4,1465.4 877.3,1463.0 936.9,1458.9 961.1,1456.5 1008.9,1454.4" stroke="#ff7f0e" stroke-width="7.0"/>
<polyline points="218.6,1710.7 227.5,1685.4 241.2,1678.0 254.7,1672.0 274.9,1663.7 293.7,1655.1 319.5,1644.6 333.6,1641.2 346.7,1636.6 371.0,1626.3 400.0,1613.6 423.6,1607.6 442.5,1600.5 462.9,1592.7 488.1,1585.6 527.4,1577.7 565.2,1575.4 588.8,1572.2 610.0,1570.6 640.9,1567.9 658.2,1564.0 699.1,1559.3 738.4,1556.1 765.2,1553.8 810.0,1551.1 840.3,1548.3 903.1,1544.3 940.1,1541.9 969.1,1538.7 993.3,1534.6 1009.8,1532.6" stroke="#1f77b4" stroke-width="7.0"/>
<polyline points="219.0,1790.2 227.5,1772.4 240.6,1755.5 253.7,1741.5 268.7,1732.1 281.8,1725.6 294.6,1718.9 307.4,1703.8 318.6,1693.5 331.7,1684.2 344.8,1679.5 359.8,1675.7 382.3,1672.0 400.0,1667.0 423.6,1661.6 451.9,1651.4 467.6,1648.2 494.4,1642.7 525.8,1638.0 565.2,1630.1 588.8,1624.6 610.0,1622.0 620.4,1619.5 644.0,1615.6 669.2,1609.3 710.1,1601.4 736.9,1599.0 763.6,1592.8 788.8,1589.6 810.0,1588.5 848.3,1585.1 928.8,1577.0 953.0,1571.4 977.2,1568.1 993.3,1565.7 1008.4,1564.5" stroke="#2ca02c" stroke-width="7.0"/>
<polyline points="221.4,1829.5 232.2,1806.0 236.4,1791.0 245.3,1765.0 254.6,1753.6 270.5,1733.0 278.0,1716.2 294.9,1696.5 307.4,1686.0 326.1,1671.0 341.1,1658.9 363.6,1648.6 378.5,1643.0 402.0,1636.5 420.5,1631.7 445.6,1626.2 462.9,1623.8 486.5,1619.1 503.8,1616.7 529.0,1612.8 546.3,1610.4 569.9,1604.9 587.2,1602.6 610.0,1599.8 642.5,1593.5 684.9,1588.0 727.4,1584.1 769.9,1580.2 810.0,1576.6 840.3,1573.8 882.9,1570.6 925.6,1567.3 967.5,1563.3 995.7,1560.9 1010.0,1559.8" stroke="#ff7f0e" stroke-opacity="0.5" stroke-width="7.0" stroke-dasharray="28.2 14.4" stroke-dashoffset="2.24"/>
<polyline points="220.9,1759.3 232.2,1739.6 236.0,1737.5 244.3,1734.9 264.9,1727.4 283.0,1721.6 296.8,1715.3 318.6,1706.6 333.6,1702.0 350.4,1697.3 371.0,1687.9 401.0,1676.5 425.2,1669.4 456.6,1658.4 478.7,1652.1 511.7,1645.8 535.3,1641.9 568.3,1638.8 591.1,1634.8 610.0,1633.5 625.2,1632.1 647.2,1629.7 664.5,1625.8 681.8,1624.2 703.8,1621.9 738.4,1619.5 760.5,1617.1 795.1,1614.0 816.1,1610.8 851.5,1608.4 873.3,1606.8 907.9,1603.6 929.6,1602.0 964.3,1598.7 986.0,1595.5 1012.6,1590.8" stroke="#1f77b4" stroke-opacity="0.5" stroke-width="7.0" stroke-dasharray="35 22" stroke-dashoffset="1.73"/>
<polyline points="219.0,1823.9 233.1,1802.4 236.8,1799.0 244.3,1788.3 264.9,1771.4 277.1,1762.1 281.2,1759.1 298.0,1751.6 314.9,1738.5 331.7,1723.5 348.6,1715.1 372.9,1710.4 391.6,1706.6 400.0,1703.5 415.7,1699.3 429.9,1694.6 456.6,1687.5 472.4,1684.4 499.1,1679.7 513.3,1677.3 541.6,1673.4 555.7,1669.4 582.5,1663.9 596.6,1660.8 610.0,1659.0 624.4,1656.5 639.3,1653.3 666.1,1648.6 681.8,1646.2 708.5,1641.5 722.7,1639.9 750.2,1634.4 765.2,1631.3 791.9,1627.4 810.0,1625.5 834.6,1622.1 849.1,1621.3 876.5,1618.9 891.8,1617.3 919.2,1614.8 933.7,1612.4 961.1,1606.8 975.5,1604.4 1003.7,1600.5 1010.0,1599.5" stroke="#2ca02c" stroke-opacity="0.5" stroke-width="7.0" stroke-dasharray="28.2 14.4" stroke-dashoffset="42.13"/>
</g>
<g stroke="#000" stroke-width="1.8" fill="none" stroke-linecap="butt">
<line x1="216.2" y1="1255.5" x2="1009.9" y2="1255.5"/>
<line x1="215.5" y1="1258.3" x2="215.5" y2="1838.3"/>
<line x1="1007.7" y1="1258.3" x2="1007.7" y2="1838.3"/>
<line x1="209.2" y1="1837.4" x2="1008.6" y2="1837.4"/>
<line x1="209.2" y1="1258.5" x2="215.5" y2="1258.5" stroke-width="1.6"/>
<line x1="209.2" y1="1403" x2="215.5" y2="1403" stroke-width="1.6"/>
<line x1="209.2" y1="1547.7" x2="215.5" y2="1547.7" stroke-width="1.6"/>
<line x1="209.2" y1="1692.2" x2="215.5" y2="1692.2" stroke-width="1.6"/>
<line x1="211.6" y1="1838" x2="211.6" y2="1843.7" stroke-width="1.6"/>
<line x1="361.6" y1="1838" x2="361.6" y2="1843.7" stroke-width="1.6"/>
<line x1="511.5" y1="1838" x2="511.5" y2="1843.7" stroke-width="1.6"/>
<line x1="661.5" y1="1838" x2="661.5" y2="1843.7" stroke-width="1.6"/>
<line x1="811.4" y1="1838" x2="811.4" y2="1843.7" stroke-width="1.6"/>
<line x1="961.4" y1="1838" x2="961.4" y2="1843.7" stroke-width="1.6"/>
</g>
<text x="145.49" y="1561.70" font-size="38" fill="#000" textLength="57.39" lengthAdjust="spacingAndGlyphs">0.2</text>
<text x="144.72" y="1272.50" font-size="38" fill="#000" textLength="57.39" lengthAdjust="spacingAndGlyphs">0.4</text>
<text x="145.33" y="1417.00" font-size="38" fill="#000" textLength="57.39" lengthAdjust="spacingAndGlyphs">0.3</text>
<text x="145.53" y="1706.20" font-size="38" fill="#000" textLength="57.39" lengthAdjust="spacingAndGlyphs">0.1</text>
<text x="145.12" y="1851.40" font-size="38" fill="#000" textLength="57.39" lengthAdjust="spacingAndGlyphs">0.0</text>
<text x="201.89" y="1875.70" font-size="36" fill="#000" textLength="20.02" lengthAdjust="spacingAndGlyphs">0</text>
<text x="351.36" y="1875.70" font-size="36" fill="#000" textLength="20.02" lengthAdjust="spacingAndGlyphs">1</text>
<text x="501.81" y="1875.70" font-size="36" fill="#000" textLength="20.02" lengthAdjust="spacingAndGlyphs">2</text>
<text x="651.87" y="1875.70" font-size="36" fill="#000" textLength="20.02" lengthAdjust="spacingAndGlyphs">3</text>
<text x="801.84" y="1875.70" font-size="36" fill="#000" textLength="20.02" lengthAdjust="spacingAndGlyphs">4</text>
<text x="951.72" y="1875.70" font-size="36" fill="#000" textLength="20.02" lengthAdjust="spacingAndGlyphs">5</text>
<g transform="translate(105.8,1685.7) rotate(-90)">
<text x="-1.82" y="0.00" font-size="38.5" fill="#000" textLength="311.20" lengthAdjust="spacingAndGlyphs">event probability</text>
</g>
<text x="452.31" y="1914.70" font-size="35" fill="#000" textLength="269.96" lengthAdjust="spacingAndGlyphs">years from scan</text>
<polygon points="1024.1,1442.5 1049.7,1442.5 1049.7,1548.4 1057,1548.4 1036.8,1564 1016.8,1548.4 1024.1,1548.4" fill="#ff8c00" stroke="#000" stroke-width="1.3"/>
<text x="1071.84" y="1449.60" font-size="33.8" font-weight="bold" fill="#000" textLength="84.07" lengthAdjust="spacingAndGlyphs">36%</text>
<text x="1168.36" y="1449.60" font-size="33.8" fill="#000" textLength="151.23" lengthAdjust="spacingAndGlyphs">reduction</text>
<text x="1092.31" y="1489.40" font-size="33.8" fill="#000" textLength="206.13" lengthAdjust="spacingAndGlyphs">of the risk of</text>
<text x="1080.94" y="1529.30" font-size="33.8" fill="#000" textLength="228.97" lengthAdjust="spacingAndGlyphs">death through</text>
<text x="1073.69" y="1569.30" font-size="33.8" fill="#000" textLength="242.27" lengthAdjust="spacingAndGlyphs">lowering of the</text>
<text x="1053.83" y="1608.80" font-size="33.8" fill="#000" textLength="281.53" lengthAdjust="spacingAndGlyphs">resting heart rate</text>
</svg></body></html>
